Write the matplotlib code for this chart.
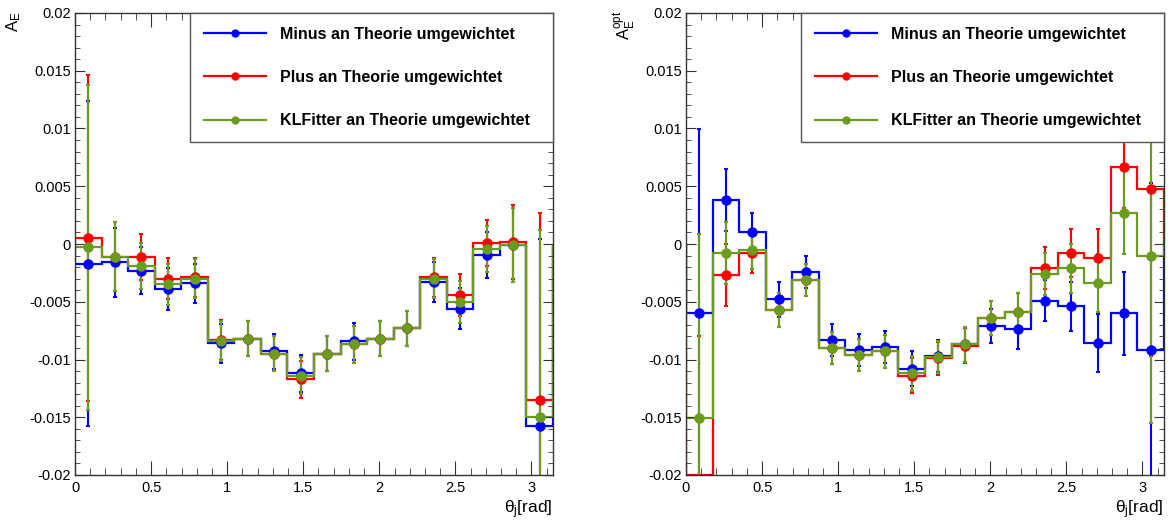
import matplotlib
matplotlib.use('Agg')
import matplotlib.pyplot as plt
import numpy as np
from matplotlib.lines import Line2D
from matplotlib.ticker import MultipleLocator, FuncFormatter

plt.rcParams['font.family'] = ['Liberation Sans', 'DejaVu Sans']
plt.rcParams['mathtext.fontset'] = 'custom'
plt.rcParams['mathtext.rm'] = 'Liberation Sans'
plt.rcParams['mathtext.it'] = 'Liberation Sans:italic'
plt.rcParams['axes.unicode_minus'] = False

# 18 bins in theta_j from 0 to pi
edges = np.linspace(0, np.pi, 19)
centers = 0.5 * (edges[:-1] + edges[1:])

labels = ["Minus an Theorie umgewichtet",
          "Plus an Theorie umgewichtet",
          "KLFitter an Theorie umgewichtet"]
colors = ["#0000ff", "#ff0000", "#6a9c1e"]

# left panel: A_E
minus_E = [-0.0017, -0.0016, -0.0023, -0.0039, -0.0034, -0.0086, -0.0082, -0.0093, -0.0112,
           -0.0095, -0.0084, -0.0082, -0.0073, -0.0033, -0.0056, -0.00095, -0.0001, -0.0158]
plus_E = [0.0005, -0.0011, -0.0011, -0.0030, -0.0029, -0.0083, -0.0082, -0.0095, -0.0117,
          -0.0095, -0.0087, -0.0082, -0.0073, -0.0029, -0.0044, 0.0001, 0.0002, -0.0135]
kl_E = [-0.0003, -0.0011, -0.0019, -0.0035, -0.0030, -0.0084, -0.0082, -0.0095, -0.0114,
        -0.0095, -0.0087, -0.0082, -0.0073, -0.0030, -0.0050, -0.0004, -0.0001, -0.0150]
err_E = [0.0141, 0.0030, 0.0020, 0.0018, 0.0017, 0.0017, 0.0015, 0.0015, 0.0016,
         0.0015, 0.0016, 0.0015, 0.0015, 0.0017, 0.0018, 0.0020, 0.0032, 0.0162]

# right panel: A_E^opt
minus_opt = [-0.0060, 0.0038, 0.0010, -0.0048, -0.0024, -0.0083, -0.0092, -0.0089, -0.0108,
             -0.0097, -0.0087, -0.0071, -0.0074, -0.0049, -0.0054, -0.0086, -0.0060, -0.0092]
plus_opt = [-0.0240, -0.0027, -0.0008, -0.0057, -0.0031, -0.0090, -0.0096, -0.0093, -0.0114,
            -0.0099, -0.0088, -0.0064, -0.0059, -0.0021, -0.0008, -0.0012, 0.0067, 0.0048]
kl_opt = [-0.0151, -0.0008, -0.0005, -0.0057, -0.0031, -0.0090, -0.0096, -0.0093, -0.0112,
          -0.0098, -0.0087, -0.0064, -0.0059, -0.0026, -0.0021, -0.0034, 0.0027, -0.0010]
err_opt = [0.0160, 0.0027, 0.0017, 0.0015, 0.0014, 0.0014, 0.0014, 0.0014, 0.0015,
           0.0014, 0.0015, 0.0015, 0.0017, 0.0018, 0.0021, 0.0025, 0.0036, 0.0145]


def draw_panel(ax, series, errs):
    for vals, col in zip(series, colors):
        vals = np.array(vals)
        ax.stairs(np.clip(vals, -0.02, 0.02), edges, color=col, lw=1.6)
        ax.errorbar(centers, vals, yerr=errs, fmt='o', color=col, ms=6.5,
                    elinewidth=1.5, capsize=1.5, capthick=1.5)
    ax.set_xlim(0, np.pi)
    ax.set_ylim(-0.02, 0.02)
    ax.xaxis.set_major_locator(MultipleLocator(0.5))
    ax.xaxis.set_minor_locator(MultipleLocator(0.1))
    ax.yaxis.set_major_locator(MultipleLocator(0.005))
    ax.yaxis.set_minor_locator(MultipleLocator(0.001))
    fmt = FuncFormatter(lambda v, p: '%g' % round(v, 6))
    ax.xaxis.set_major_formatter(fmt)
    ax.yaxis.set_major_formatter(fmt)
    ax.tick_params(axis='both', which='both', direction='in', top=True, right=True,
                   labelsize=10.5, color='#333333')
    ax.tick_params(axis='x', which='major', length=10, pad=4)
    ax.tick_params(axis='x', which='minor', length=5)
    ax.tick_params(axis='y', which='major', length=7.5, pad=3)
    ax.tick_params(axis='y', which='minor', length=3.8)
    for s in ax.spines.values():
        s.set_color('#333333')
        s.set_linewidth(1.0)
    handles = [Line2D([0], [0], color=c, lw=1.6, marker='o', ms=5) for c in colors]
    leg = ax.legend(handles, labels, loc='upper left', mode='expand',
                    bbox_to_anchor=(0.2406, 0.0, 0.7594, 1.0),
                    prop={'weight': 'bold', 'size': 11.5}, frameon=True, fancybox=False,
                    edgecolor='#555555', framealpha=1, borderpad=0.85,
                    labelspacing=1.78, handlelength=3.9, handletextpad=0.9,
                    borderaxespad=0)
    leg.get_frame().set_linewidth(1.0)


fig = plt.figure(figsize=(11.74, 5.25), dpi=100)
ax1 = fig.add_axes([75 / 1174, 1 - 475 / 525, 478 / 1174, 462 / 525])
ax2 = fig.add_axes([686 / 1174, 1 - 475 / 525, 478 / 1174, 462 / 525])

draw_panel(ax1, [minus_E, plus_E, kl_E], err_E)
draw_panel(ax2, [minus_opt, plus_opt, kl_opt], err_opt)

fig.text(14 / 1174, 1 - 11 / 525, r'A$_{\rm E}$', rotation=90, ha='center', va='top', fontsize=12)
fig.text(624 / 1174, 1 - 11 / 525, r'A$_{\rm E}^{\rm opt}$', rotation=90, ha='center', va='top', fontsize=12)
fig.text(553 / 1174, 1 - 510 / 525, r'θ$_{\rm j}$[rad]', ha='right', va='center', fontsize=12.5)
fig.text(1164 / 1174, 1 - 510 / 525, r'θ$_{\rm j}$[rad]', ha='right', va='center', fontsize=12.5)

fig.savefig('out.png', dpi=100)
